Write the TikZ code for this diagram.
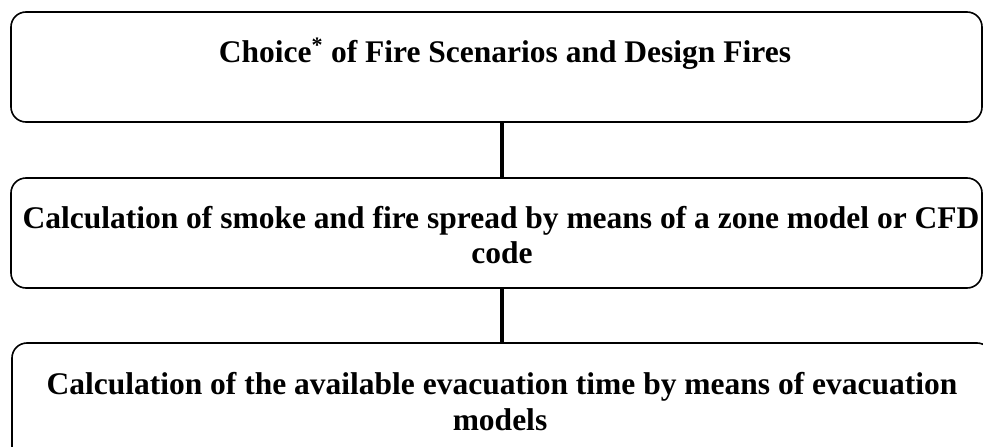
\documentclass[tikz,border=0pt]{standalone}
\usepackage{fontspec}
\setmainfont{Liberation Serif}
\begin{document}
\begin{tikzpicture}[x=1pt,y=-1pt,
  box/.style={draw=black,line width=1.6pt,rounded corners=15pt,rectangle,inner sep=0pt,outer sep=0pt,anchor=north west},
  conn/.style={draw=black,line width=4.6pt},
  lbl/.style={anchor=base,inner sep=0pt,font=\fontsize{31.5}{36}\selectfont\bfseries}]
\useasboundingbox (0,0) rectangle (983,447);
\node[box,minimum width=971pt,minimum height=110pt] (b1) at (11,12) {};
\node[box,minimum width=971pt,minimum height=110pt] (b2) at (11,178) {};
\node[box,minimum width=980pt,minimum height=130pt] (b3) at (12,343) {};
\node[lbl] (t1) at (505,62) {Choice\textsuperscript{*} of Fire Scenarios and Design Fires};
\node[lbl] (t2a) at (501,228) {Calculation of smoke and fire spread by means of a zone model or CFD};
\node[lbl] (t2b) at (502,263) {code};
\node[lbl] (t3a) at (502,394) {Calculation of the available evacuation time by means of evacuation};
\node[lbl] (t3b) at (500,430) {models};
\draw[conn] ([xshift=5.5pt]b1.south) -- ([xshift=5.5pt]b2.north);
\draw[conn] ([xshift=5.5pt]b2.south) -- (b3.north);
\end{tikzpicture}
\end{document}
